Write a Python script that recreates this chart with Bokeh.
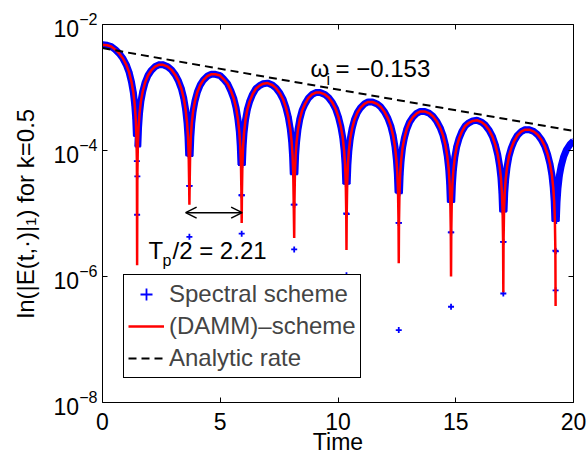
import numpy as np
from bokeh.plotting import figure
from bokeh.models import (Range1d, LinearAxis, LogAxis, FixedTicker, Label,
                          Arrow, OpenHead, Legend, LegendItem)
from bokeh.embed import file_html
from bokeh.resources import INLINE

# ---------------- data ----------------
# sample times along the curve (both schemes coincide on the lobes)
time = [
    0.00, 0.20, 0.37, 0.55, 0.71, 0.87, 1.01, 1.13, 1.23, 1.31, 1.37, 1.41, 1.44, 1.46,
    1.48, 1.50, 1.53, 1.57, 1.63, 1.71, 1.81, 1.93, 2.07, 2.23, 2.39, 2.57, 2.77, 2.93, 3.09, 3.23, 3.35, 3.45, 3.53, 3.59, 3.63, 3.66, 3.68,
    3.70, 3.72, 3.75, 3.79, 3.85, 3.93, 4.03, 4.15, 4.29, 4.45, 4.61, 4.79, 4.99, 5.15, 5.31, 5.45, 5.57, 5.67, 5.75, 5.81, 5.85, 5.88, 5.90,
    5.92, 5.94, 5.97, 6.01, 6.07, 6.15, 6.25, 6.37, 6.51, 6.67, 6.83, 7.01, 7.21, 7.37, 7.53, 7.67, 7.79, 7.89, 7.97, 8.03, 8.07, 8.10, 8.12,
    8.15, 8.17, 8.20, 8.24, 8.30, 8.38, 8.48, 8.60, 8.74, 8.90, 9.06, 9.24, 9.44, 9.60, 9.76, 9.90, 10.02, 10.12, 10.20, 10.26, 10.30, 10.33, 10.35,
    10.37, 10.39, 10.42, 10.46, 10.52, 10.60, 10.70, 10.82, 10.96, 11.12, 11.28, 11.46, 11.66, 11.82, 11.98, 12.12, 12.24, 12.34, 12.42, 12.48, 12.52, 12.55, 12.57,
    12.59, 12.61, 12.64, 12.68, 12.74, 12.82, 12.92, 13.04, 13.18, 13.34, 13.50, 13.68, 13.88, 14.04, 14.20, 14.34, 14.46, 14.56, 14.64, 14.70, 14.74, 14.77, 14.79,
    14.81, 14.83, 14.86, 14.90, 14.96, 15.04, 15.14, 15.26, 15.40, 15.56, 15.72, 15.90, 16.10, 16.26, 16.42, 16.56, 16.68, 16.78, 16.86, 16.92, 16.96, 16.99, 17.01,
    17.03, 17.05, 17.08, 17.12, 17.18, 17.26, 17.36, 17.48, 17.62, 17.78, 17.94, 18.12, 18.32, 18.48, 18.64, 18.78, 18.90, 19.00, 19.08, 19.14, 19.18, 19.21, 19.23,
    19.25, 19.27, 19.30, 19.34, 19.40, 19.48, 19.58, 19.70, 19.84, 20.00,
]
# log10 of the field amplitude at those times
log10_field = [
    -2.32, -2.33, -2.35, -2.40, -2.46, -2.54, -2.64, -2.76, -2.91, -3.08, -3.28, -3.49, -3.77, -4.17,
    -4.41, -3.94, -3.64, -3.42, -3.22, -3.06, -2.92, -2.81, -2.73, -2.67, -2.64, -2.64, -2.67, -2.72, -2.80, -2.90, -3.02, -3.17, -3.35, -3.56, -3.78, -4.08, -4.56,
    -4.56, -4.09, -3.79, -3.57, -3.37, -3.21, -3.07, -2.96, -2.88, -2.82, -2.79, -2.79, -2.81, -2.87, -2.94, -3.05, -3.17, -3.32, -3.50, -3.70, -3.93, -4.23, -4.71,
    -4.71, -4.23, -3.94, -3.72, -3.52, -3.35, -3.22, -3.11, -3.02, -2.97, -2.94, -2.93, -2.96, -3.01, -3.09, -3.19, -3.32, -3.47, -3.65, -3.85, -4.08, -4.38, -4.86,
    -4.86, -4.38, -4.08, -3.87, -3.67, -3.50, -3.36, -3.26, -3.17, -3.11, -3.08, -3.08, -3.11, -3.16, -3.24, -3.34, -3.47, -3.62, -3.79, -4.00, -4.22, -4.53, -5.00,
    -5.01, -4.53, -4.23, -4.01, -3.81, -3.65, -3.51, -3.40, -3.32, -3.26, -3.23, -3.23, -3.26, -3.31, -3.39, -3.49, -3.61, -3.76, -3.94, -4.15, -4.37, -4.67, -5.15,
    -5.15, -4.68, -4.38, -4.16, -3.96, -3.80, -3.66, -3.55, -3.47, -3.41, -3.38, -3.38, -3.41, -3.46, -3.54, -3.64, -3.76, -3.91, -4.09, -4.29, -4.52, -4.82, -5.30,
    -5.30, -4.82, -4.53, -4.31, -4.11, -3.94, -3.81, -3.70, -3.61, -3.56, -3.53, -3.52, -3.55, -3.60, -3.68, -3.78, -3.91, -4.06, -4.24, -4.44, -4.67, -4.97, -5.45,
    -5.45, -4.97, -4.67, -4.46, -4.26, -4.09, -3.96, -3.85, -3.76, -3.70, -3.67, -3.67, -3.70, -3.75, -3.83, -3.93, -4.06, -4.21, -4.38, -4.59, -4.81, -5.12, -5.59,
    -5.60, -5.12, -4.82, -4.60, -4.40, -4.24, -4.10, -3.99, -3.91, -3.85,
]
# zeros of the field (troughs) and the depth each scheme reaches there
trough_time = [1.47, 3.69, 5.91, 8.14, 10.36, 12.58, 14.80, 17.02, 19.24]
trough_log10_damm = [-5.82, -4.86, -5.15, -5.39, -5.58, -5.79, -6.00, -6.25, -6.47]
trough_log10_spectral = [-5.02, -5.37, -5.32, -5.57, -5.98, -6.85, -6.48, -6.27, -6.22]
# analytic damping-rate line (end points)
rate_time = [0.0, 20.0]
rate_field = [4.22e-3, 2.04e-4]

x_ticks = [0, 5, 10, 15, 20]
y_tick_exp = [-8, -6, -4, -2]

# ---------------- series ----------------
t = np.array(time)
v = np.array(log10_field)
tz = np.array(trough_time)

m = t <= tz[-1] + 1e-9
damm_t = np.concatenate([t[m], tz])
damm_v = np.concatenate([v[m], trough_log10_damm])
o = np.argsort(damm_t, kind="stable")
damm_t, damm_E = damm_t[o], 10.0 ** damm_v[o]

spec_t = np.concatenate([t, tz])
spec_v = np.concatenate([v, trough_log10_spectral])
o = np.argsort(spec_t, kind="stable")
spec_t, spec_E = spec_t[o], 10.0 ** spec_v[o]

# dense marker band (the markers overlap into a solid band on the lobes)
near = np.min(np.abs(spec_t[:, None] - tz[None, :]), axis=1) < 0.025
band_E = np.where(near, np.nan, spec_E)

# ---------------- figure ----------------
FONT = "Liberation Sans"
L, R, T, B = 102, 573, 24, 404
W, H = 587, 457

p = figure(width=W, height=H, x_range=Range1d(0, 20), y_range=Range1d(1e-8, 1e-2),
           y_axis_type="log", output_backend="svg", toolbar_location=None,
           min_border_left=L, min_border_right=W - R, min_border_top=T,
           min_border_bottom=H - B)
p.background_fill_color = "white"
p.border_fill_color = "white"
p.outline_line_color = None
p.xgrid.grid_line_color = None
p.ygrid.grid_line_color = None

p.add_layout(LinearAxis(), "above")
p.add_layout(LogAxis(), "right")
for ax in p.below + p.above:
    ax.ticker = FixedTicker(ticks=x_ticks)
for ax in p.left + p.right:
    ax.ticker = FixedTicker(ticks=[10.0 ** e for e in y_tick_exp])
for ax in p.below + p.above + p.left + p.right:
    ax.axis_line_color = "black"
    ax.axis_line_width = 1
    ax.major_tick_line_color = "black"
    ax.major_tick_line_width = 1
    ax.major_tick_in = 5
    ax.major_tick_out = 0
    ax.minor_tick_line_color = None
    ax.major_label_text_font = FONT
    ax.major_label_text_font_size = "23px"
    ax.major_label_text_color = "black"
    ax.axis_label_text_font = FONT
    ax.axis_label_text_font_style = "normal"
    ax.axis_label_text_color = "black"
for ax in p.above + p.right:
    ax.major_label_text_font_size = "1px"
    ax.major_label_text_color = None
    ax.major_label_standoff = 0

xb = p.below[0]
xb.major_label_standoff = 10
xb.axis_label = "Time"
xb.axis_label_text_font_size = "23px"
xb.axis_label_standoff = -4

yl = p.left[0]
yl.major_label_standoff = 5
yl.axis_label = "ln(|E(t,\u00b7)|\u2081) for k=0.5"
yl.axis_label_text_font_size = "24px"
yl.axis_label_standoff = 12

p.line(spec_t, band_E, line_color="blue", line_width=7)
r_spec = p.scatter(spec_t, spec_E, marker="cross", size=6, line_color="blue", line_width=1.8)
r_damm = p.line(damm_t, damm_E, line_color="red", line_width=2.5)
r_rate = p.line(rate_time, rate_field, line_color="black", line_width=2, line_dash="8 5")

legend = Legend(items=[LegendItem(label="Spectral scheme", renderers=[r_spec]),
                       LegendItem(label="(DAMM)\u2013scheme", renderers=[r_damm]),
                       LegendItem(label="Analytic rate", renderers=[r_rate])],
                location=(21, 24), label_text_font=FONT, label_text_font_size="24px",
                glyph_width=36, glyph_height=30, label_height=30, label_standoff=5,
                spacing=2, padding=4, margin=0, border_line_color="black",
                border_line_alpha=1, border_line_width=1,
                background_fill_color="white", background_fill_alpha=1)
p.add_layout(legend)


def lab(px, py, text, size, align="left"):
    """Text inside the frame, placed in canvas pixels (origin top-left)."""
    p.add_layout(Label(x=px, y=py, x_units="canvas", y_units="canvas", text=text,
                       text_font=FONT, text_font_size=f"{size}px", text_align=align,
                       text_baseline="alphabetic", text_color="black"))


lab(310, 68.3, "\u03c9", 24)
lab(326, 79, "i", 16)
lab(335, 68.3, "= \u22120.153", 24)

lab(148, 250, "T", 24)
lab(162, 260, "p", 16)
lab(172, 250, "/2 = 2.21", 24)

p.add_layout(Arrow(start=OpenHead(size=11, line_width=1.5, line_color="black"),
                   end=OpenHead(size=11, line_width=1.5, line_color="black"),
                   x_start=3.53, y_start=1.03e-5, x_end=5.93, y_end=1.03e-5,
                   line_width=1.5, line_color="black"))

open("out.html", "w").write(file_html(p, INLINE))
